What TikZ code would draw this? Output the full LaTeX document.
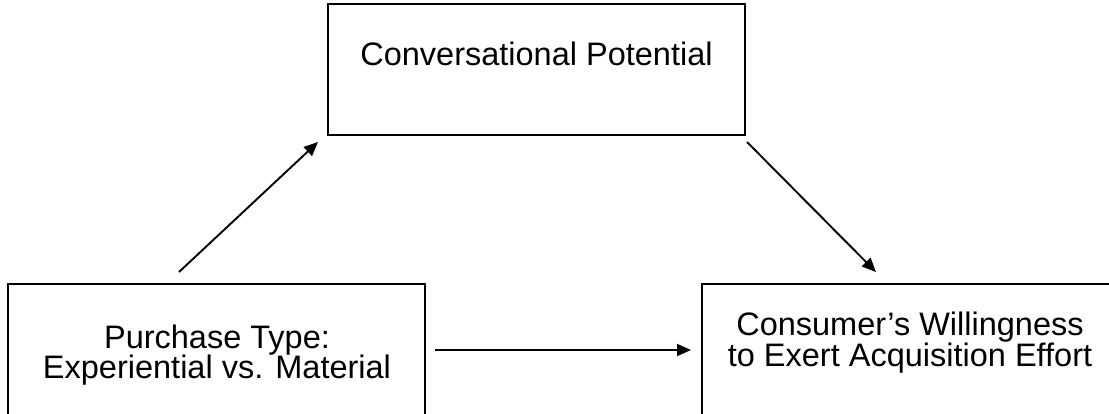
\documentclass[tikz,border=0pt]{standalone}
\usepackage{fontspec}
\setmainfont{Liberation Sans}
\usetikzlibrary{arrows.meta}
\begin{document}
\begin{tikzpicture}[x=1pt,y=-1pt,
  box/.style={draw=black,line width=2pt,minimum width=#1,inner sep=0pt,fill=none},
  lbl/.style={anchor=base,font=\fontsize{32.5}{32}\selectfont,inner sep=0pt},
  conn/.style={line width=1.9pt,-{Triangle[length=14pt,width=12pt]}}]
\useasboundingbox (0,0) rectangle (1109,413);
\clip (0,0) rectangle (1109,413);
\node[box=417pt,minimum height=131pt] (cp) at (536.5,69.5) {};
\node[box=417pt,minimum height=160pt] (pt) at (216.5,364) {};
\node[box=416pt,minimum height=160pt] (cw) at (910,364) {};
\node[lbl] (cpt) at (536.5,65) {Conversational Potential};
\node[lbl] (pta) at (217,348) {Purchase Type:};
\node[lbl] (ptb) at (217,378) {Experiential vs. Material};
\node[lbl] (cwa) at (910,335) {Consumer’s Willingness};
\node[lbl] (cwb) at (910,366) {to Exert Acquisition Effort};
\coordinate (a1s) at (179,272);
\coordinate (a1e) at (318,142);
\coordinate (a2s) at (747,142);
\coordinate (a2e) at (876,272);
\coordinate (a3s) at (435,350);
\coordinate (a3e) at (691,350);
\draw[conn] (a1s) -- (a1e);
\draw[conn] (a2s) -- (a2e);
\draw[conn] (a3s) -- (a3e);
\end{tikzpicture}
\end{document}
